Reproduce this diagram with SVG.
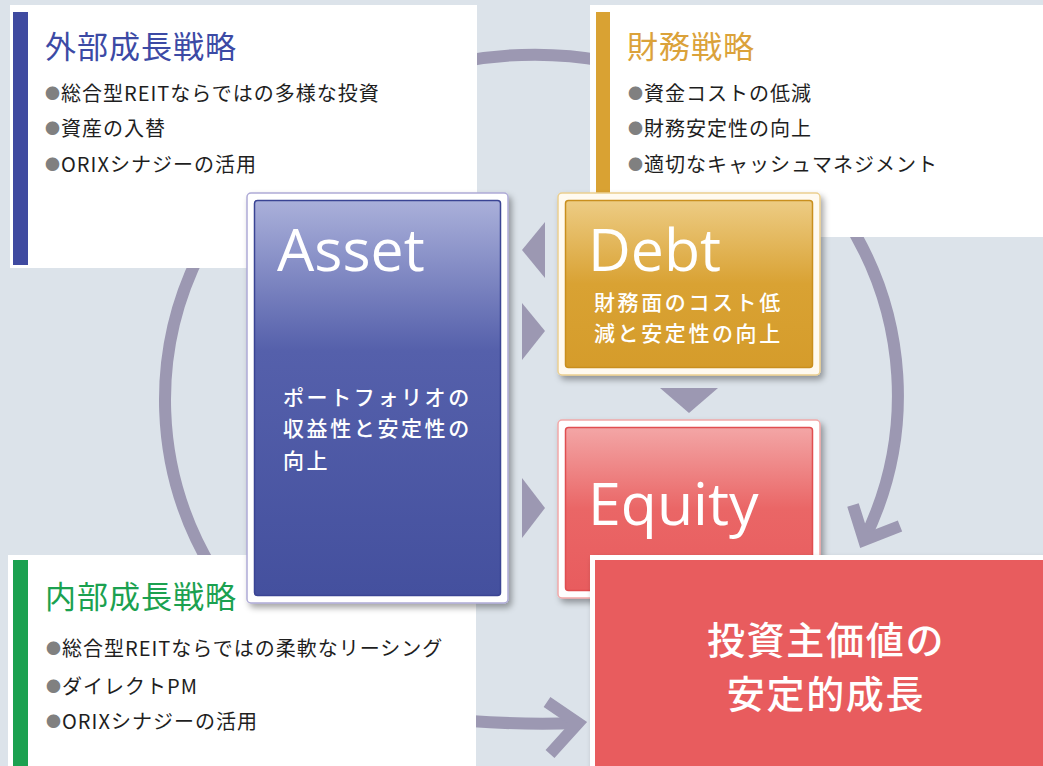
<svg xmlns="http://www.w3.org/2000/svg" width="1043" height="766" viewBox="0 0 1043 766">
<defs>
<style>
.jp{font-family:"Noto Sans CJK JP","Noto Sans",sans-serif;}
.title{font-size:31px;letter-spacing:1px;}
.bl{font-size:20px;letter-spacing:1px;fill:#1e1e1e;font-weight:400;}
.dot{fill:#808080;font-size:15px;}
.big{font-family:"Open Sans","Noto Sans",sans-serif;font-size:59px;fill:#ffffff;}
.sub{font-size:21px;letter-spacing:2.6px;fill:#ffffff;font-weight:500;}
.arc{fill:none;stroke:#9c98b2;stroke-width:12;}
.tri{fill:#9c98b2;}
.panel{fill:#ffffff;}
</style>
<linearGradient id="gA" x1="0" y1="0" x2="0" y2="1">
<stop offset="0" stop-color="#aab0da"/>
<stop offset="0.38" stop-color="#5560ab"/>
<stop offset="1" stop-color="#44509e"/>
</linearGradient>
<linearGradient id="gD" x1="0" y1="0" x2="0" y2="1">
<stop offset="0" stop-color="#edcc84"/>
<stop offset="0.5" stop-color="#d9a233"/>
<stop offset="1" stop-color="#d59c2b"/>
</linearGradient>
<linearGradient id="gE" x1="0" y1="0" x2="0" y2="1">
<stop offset="0" stop-color="#f3a6a6"/>
<stop offset="0.5" stop-color="#ea6666"/>
<stop offset="1" stop-color="#e85c5e"/>
</linearGradient>
<filter id="sh" x="-10%" y="-10%" width="125%" height="125%">
<feDropShadow dx="3" dy="4" stdDeviation="3" flood-color="#000" flood-opacity="0.35"/>
</filter>
</defs>
<rect x="0" y="0" width="1043" height="766" fill="#dce3ea"/>

<g id="connectors">
<path class="arc" d="M 465 61 A 368 345 0 0 1 605 61"/>
<path class="arc" d="M 201.6 250 A 368 345 0 0 0 212.8 570"/>
<path class="arc" d="M 843.6 215 A 368 345 0 0 1 864 540"/>
<path class="arc" stroke-linejoin="miter" d="M 853 505 L 864 540 L 900 526"/>
<path class="arc" d="M 470 721 Q 525 725 578 723"/>
<path class="arc" stroke-linejoin="miter" d="M 547 702 L 578 723 L 550 754"/>
<polygon class="tri" points="522,250 545,222 545,278"/>
<polygon class="tri" points="522,303 545,331 522,360"/>
<polygon class="tri" points="522,478 545,508 522,538"/>
<polygon class="tri" points="660,388 718,388 689,413"/>
</g>

<g id="external-growth">
<rect class="panel" x="10" y="5" width="467" height="263"/>
<rect x="13" y="12" width="15" height="253" fill="#3f4aa0"/>
<text class="jp title" x="45" y="58" fill="#3c4aa5">外部成長戦略</text>
<text class="jp bl" x="45" y="101"><tspan class="dot" dy="-2">●</tspan><tspan dy="2">総合型REITならではの多様な投資</tspan></text>
<text class="jp bl" x="45" y="136"><tspan class="dot" dy="-2">●</tspan><tspan dy="2">資産の入替</tspan></text>
<text class="jp bl" x="45" y="172"><tspan class="dot" dy="-2">●</tspan><tspan dy="2">ORIXシナジーの活用</tspan></text>
</g>

<g id="financial-strategy">
<rect class="panel" x="590" y="5" width="453" height="232"/>
<rect x="596" y="12" width="14" height="190" fill="#d9a233"/>
<text class="jp title" x="627" y="58" fill="#dba23a">財務戦略</text>
<text class="jp bl" x="628" y="101"><tspan class="dot" dy="-2">●</tspan><tspan dy="2">資金コストの低減</tspan></text>
<text class="jp bl" x="628" y="136"><tspan class="dot" dy="-2">●</tspan><tspan dy="2">財務安定性の向上</tspan></text>
<text class="jp bl" x="628" y="172"><tspan class="dot" dy="-2">●</tspan><tspan dy="2">適切なキャッシュマネジメント</tspan></text>
</g>

<g id="internal-growth">
<rect class="panel" x="8" y="555" width="468" height="211"/>
<rect x="13" y="560" width="15" height="206" fill="#1ba150"/>
<text class="jp title" x="45" y="608" fill="#1ba150">内部成長戦略</text>
<text class="jp bl" x="46" y="656"><tspan class="dot" dy="-2">●</tspan><tspan dy="2">総合型REITならではの柔軟なリーシング</tspan></text>
<text class="jp bl" x="46" y="694"><tspan class="dot" dy="-2">●</tspan><tspan dy="2">ダイレクトPM</tspan></text>
<text class="jp bl" x="46" y="729"><tspan class="dot" dy="-2">●</tspan><tspan dy="2">ORIXシナジーの活用</tspan></text>
</g>

<g id="asset">
<rect x="247" y="193" width="261" height="410" rx="4" fill="#ffffff" stroke="#aeaad6" stroke-width="1.5" filter="url(#sh)"/>
<rect x="254.5" y="200.5" width="246" height="395" rx="3" fill="url(#gA)" stroke="#3a4494" stroke-width="1.5"/>
<text class="big" x="277" y="271">Asset</text>
<text class="jp sub" x="283" y="405">ポートフォリオの</text>
<text class="jp sub" x="283" y="436">収益性と安定性の</text>
<text class="jp sub" x="283" y="468">向上</text>
</g>

<g id="debt">
<rect x="558" y="193" width="262" height="182" rx="4" fill="#fffaf0" stroke="#ebcf90" stroke-width="1.5" filter="url(#sh)"/>
<rect x="565.5" y="200.5" width="247" height="167" rx="3" fill="url(#gD)" stroke="#c98f1e" stroke-width="1.5"/>
<text class="big" x="588" y="271">Debt</text>
<text class="jp sub" x="594" y="310">財務面のコスト低</text>
<text class="jp sub" x="594" y="341">減と安定性の向上</text>
</g>

<g id="equity">
<rect x="558" y="420" width="262" height="178" rx="4" fill="#ffffff" stroke="#f2a8a8" stroke-width="1.5" filter="url(#sh)"/>
<rect x="565.5" y="427.5" width="247" height="163" rx="3" fill="url(#gE)" stroke="#e04e50" stroke-width="1.5"/>
<text class="big" x="588" y="525">Equity</text>
</g>

<g id="unitholder-value">
<rect x="590" y="555" width="460" height="220" fill="#ffffff" filter="url(#sh)"/>
<rect x="595" y="560" width="455" height="215" fill="#e85c5e"/>
<text class="jp" x="826" y="654" font-size="38" letter-spacing="1.7" fill="#ffffff" text-anchor="middle" font-weight="500">投資主価値の</text>
<text class="jp" x="826" y="708" font-size="38" letter-spacing="1.7" fill="#ffffff" text-anchor="middle" font-weight="500">安定的成長</text>
</g>
</svg>
